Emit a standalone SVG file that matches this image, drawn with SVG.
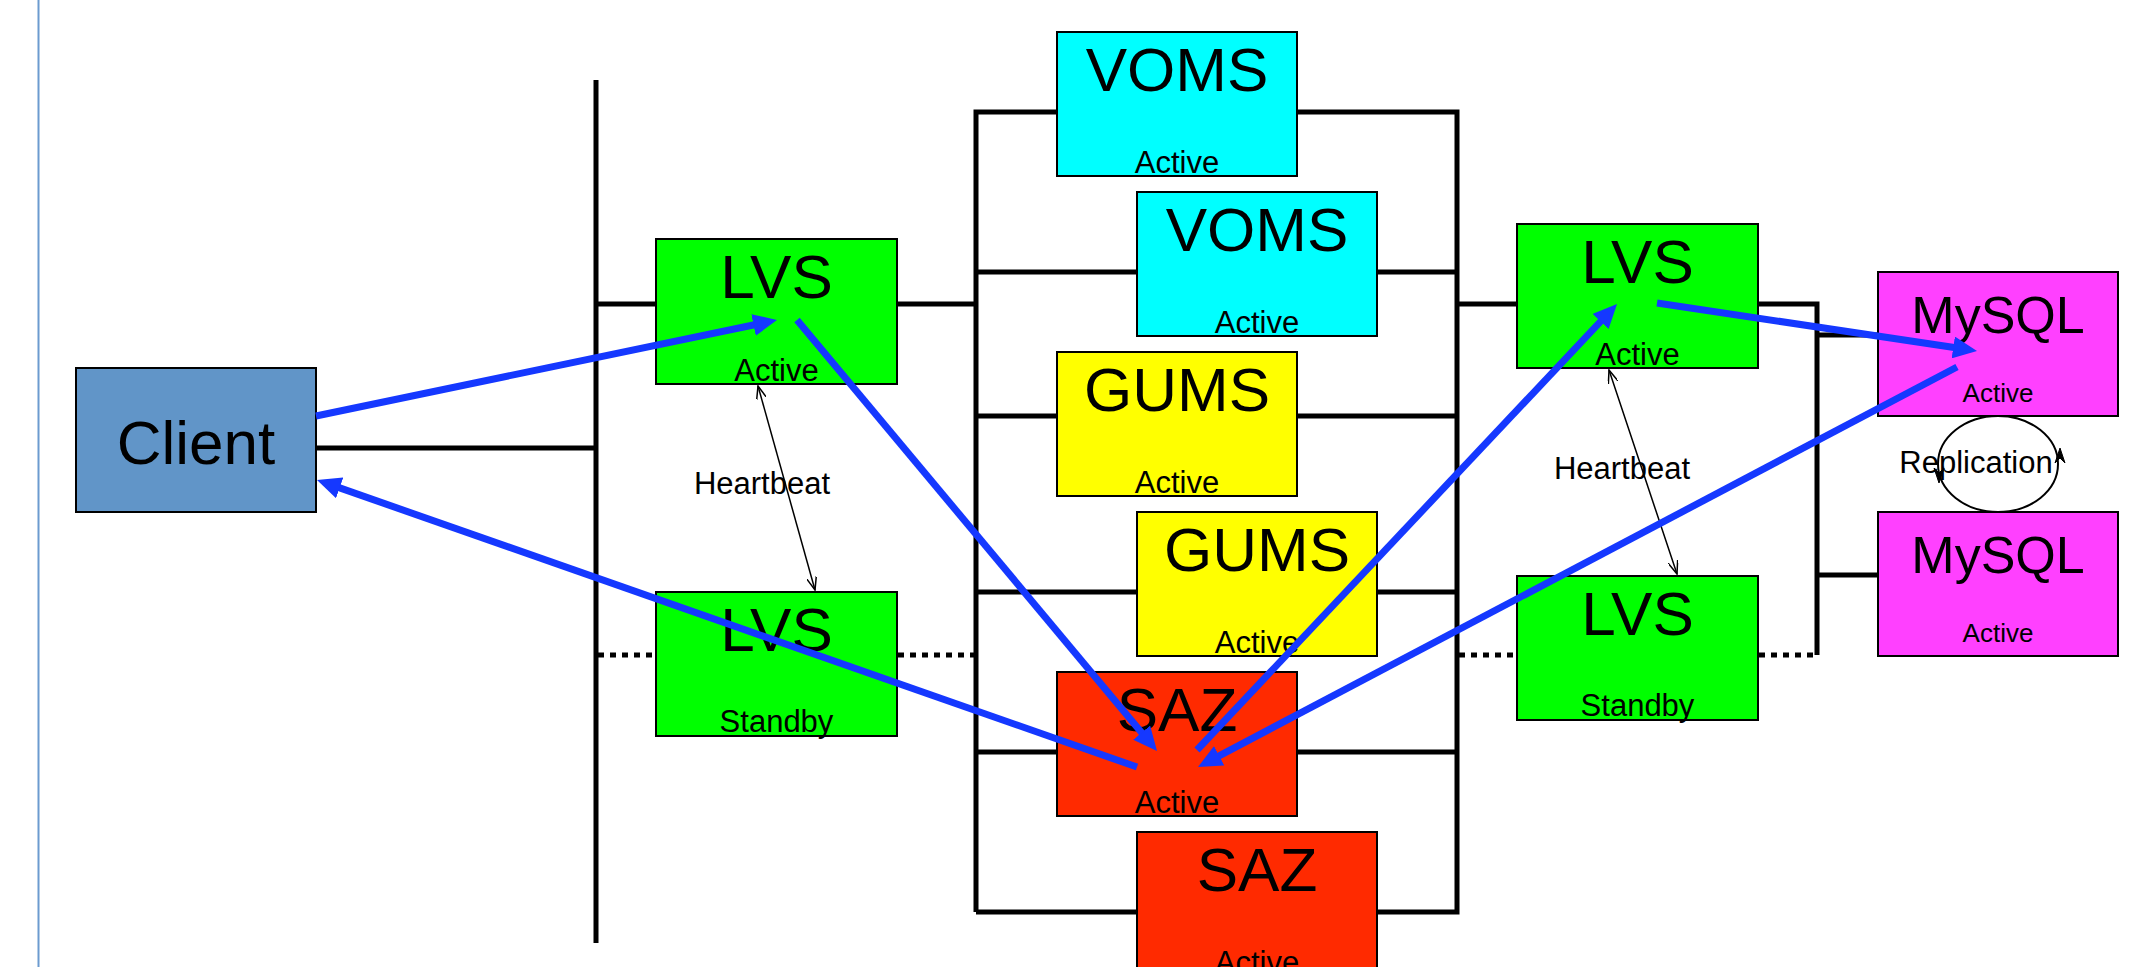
<svg xmlns="http://www.w3.org/2000/svg" width="2150" height="967" viewBox="0 0 2150 967">
  <style>
    .bus { stroke: #000; stroke-width: 5; fill: none; }
    .dot { stroke: #000; stroke-width: 5; stroke-dasharray: 6 6; fill: none; }
    .box { stroke: #000; stroke-width: 2; }
    .big { font-family: "Liberation Sans", Arial, sans-serif; font-size: 62px; text-anchor: middle; fill: #000; }
    .mid { font-family: "Liberation Sans", Arial, sans-serif; font-size: 52px; text-anchor: middle; fill: #000; }
    .small { font-family: "Liberation Sans", Arial, sans-serif; font-size: 31px; text-anchor: middle; fill: #000; }
    .tiny { font-family: "Liberation Sans", Arial, sans-serif; font-size: 26px; text-anchor: middle; fill: #000; }
    .flow { stroke: #1538ff; stroke-width: 7; fill: none; marker-end: url(#blueHead); }
    .beat { stroke: #000; stroke-width: 1.5; fill: none; marker-start: url(#openHead); marker-end: url(#openHead); }
    .spin { fill: #000; stroke: #000; stroke-width: 1; }
    .green { fill: #00ff00; }
    .cyan { fill: #00ffff; }
    .yellow { fill: #ffff00; }
    .red { fill: #ff2a00; }
    .pink { fill: #ff40ff; }
  </style>
  <defs>
    <marker id="blueHead" markerUnits="userSpaceOnUse" viewBox="0 0 24 22" refX="6" refY="11" markerWidth="24" markerHeight="22" orient="auto">
      <path d="M0,0 L24,11 L0,22 z" fill="#1538ff"/>
    </marker>
    <marker id="openHead" markerUnits="userSpaceOnUse" viewBox="0 0 14 10" refX="13" refY="5" markerWidth="14" markerHeight="10" orient="auto-start-reverse">
      <path d="M0,0 L13,5 L0,10" fill="none" stroke="#000" stroke-width="1.5"/>
    </marker>
  </defs>

  <rect x="0" y="0" width="2150" height="967" fill="#fff"/>
  <!-- page margin rule -->
  <line x1="38.5" y1="0" x2="38.5" y2="967" stroke="#6c9bd0" stroke-width="2"/>

  <!-- network wiring -->
  <g id="wiring">
    <line class="bus" x1="596" y1="80" x2="596" y2="943"/>
    <line class="bus" x1="316" y1="448" x2="596" y2="448"/>
    <line class="bus" x1="596" y1="304" x2="976" y2="304"/>
    <line class="dot" x1="598" y1="655" x2="976" y2="655"/>

    <path class="bus" d="M976,912 V112 H1457 V912 H976"/>
    <line class="bus" x1="976" y1="272" x2="1457" y2="272"/>
    <line class="bus" x1="976" y1="416" x2="1457" y2="416"/>
    <line class="bus" x1="976" y1="592" x2="1457" y2="592"/>
    <line class="bus" x1="976" y1="752" x2="1457" y2="752"/>

    <path class="bus" d="M1457,304 H1817 V655"/>
    <line class="bus" x1="1817" y1="335" x2="1878" y2="335"/>
    <line class="bus" x1="1817" y1="575" x2="1878" y2="575"/>
    <line class="dot" x1="1459" y1="655" x2="1815" y2="655"/>
  </g>

  <g id="client">
    <rect class="box" x="76" y="368" width="240" height="144" fill="#6195c8"/>
    <text class="big" x="196" y="464">Client</text>
  </g>

  <g id="lvs-front-active">
    <rect class="box green" x="656" y="239" width="241" height="145"/>
    <text class="big" x="776.5" y="298">LVS</text>
    <text class="small" x="776.5" y="381">Active</text>
  </g>
  <g id="lvs-front-standby">
    <rect class="box green" x="656" y="592" width="241" height="144"/>
    <text class="big" x="776.5" y="651">LVS</text>
    <text class="small" x="776.5" y="732">Standby</text>
  </g>

  <g id="voms-1">
    <rect class="box cyan" x="1057" y="32" width="240" height="144"/>
    <text class="big" x="1177" y="91">VOMS</text>
    <text class="small" x="1177" y="173">Active</text>
  </g>
  <g id="voms-2">
    <rect class="box cyan" x="1137" y="192" width="240" height="144"/>
    <text class="big" x="1257" y="251">VOMS</text>
    <text class="small" x="1257" y="333">Active</text>
  </g>
  <g id="gums-1">
    <rect class="box yellow" x="1057" y="352" width="240" height="144"/>
    <text class="big" x="1177" y="411">GUMS</text>
    <text class="small" x="1177" y="493">Active</text>
  </g>
  <g id="gums-2">
    <rect class="box yellow" x="1137" y="512" width="240" height="144"/>
    <text class="big" x="1257" y="571">GUMS</text>
    <text class="small" x="1257" y="653">Active</text>
  </g>
  <g id="saz-1">
    <rect class="box red" x="1057" y="672" width="240" height="144"/>
    <text class="big" x="1177" y="731">SAZ</text>
    <text class="small" x="1177" y="813">Active</text>
  </g>
  <g id="saz-2">
    <rect class="box red" x="1137" y="832" width="240" height="144"/>
    <text class="big" x="1257" y="891">SAZ</text>
    <text class="small" x="1257" y="973">Active</text>
  </g>

  <g id="lvs-back-active">
    <rect class="box green" x="1517" y="224" width="241" height="144"/>
    <text class="big" x="1637.5" y="283">LVS</text>
    <text class="small" x="1637.5" y="365">Active</text>
  </g>
  <g id="lvs-back-standby">
    <rect class="box green" x="1517" y="576" width="241" height="144"/>
    <text class="big" x="1637.5" y="635">LVS</text>
    <text class="small" x="1637.5" y="716">Standby</text>
  </g>

  <g id="mysql-1">
    <rect class="box pink" x="1878" y="272" width="240" height="144"/>
    <text class="mid" x="1998" y="333">MySQL</text>
    <text class="tiny" x="1998" y="402">Active</text>
  </g>
  <g id="mysql-2">
    <rect class="box pink" x="1878" y="512" width="240" height="144"/>
    <text class="mid" x="1998" y="573">MySQL</text>
    <text class="tiny" x="1998" y="642">Active</text>
  </g>

  <!-- heartbeat and replication links -->
  <g id="links">
    <text class="small" x="762" y="494">Heartbeat</text>
    <line class="beat" x1="758" y1="386" x2="815" y2="590"/>
    <text class="small" x="1622" y="479">Heartbeat</text>
    <line class="beat" x1="1609" y1="370" x2="1677" y2="574"/>
    <ellipse cx="1998" cy="464" rx="60" ry="48" fill="none" stroke="#000" stroke-width="2"/>
    <path class="spin" d="M2055,463 L2060,448 L2065,463 L2060,458 z"/>
    <path class="spin" d="M1934,468 L1939,483 L1944,468 L1939,473 z"/>
    <text class="small" x="1976" y="473">Replication</text>
  </g>

  <!-- request path -->
  <g id="request-flow">
    <line class="flow" x1="316" y1="416" x2="759.4" y2="323.7"/>
    <line class="flow" x1="797" y1="320" x2="1145.5" y2="737.2"/>
    <line class="flow" x1="1137" y1="767" x2="334" y2="485.9"/>
    <line class="flow" x1="1197" y1="750" x2="1604.7" y2="317.1"/>
    <line class="flow" x1="1657" y1="303" x2="1959.2" y2="348.3"/>
    <line class="flow" x1="1957" y1="367" x2="1213.9" y2="758.6"/>
  </g>
</svg>
